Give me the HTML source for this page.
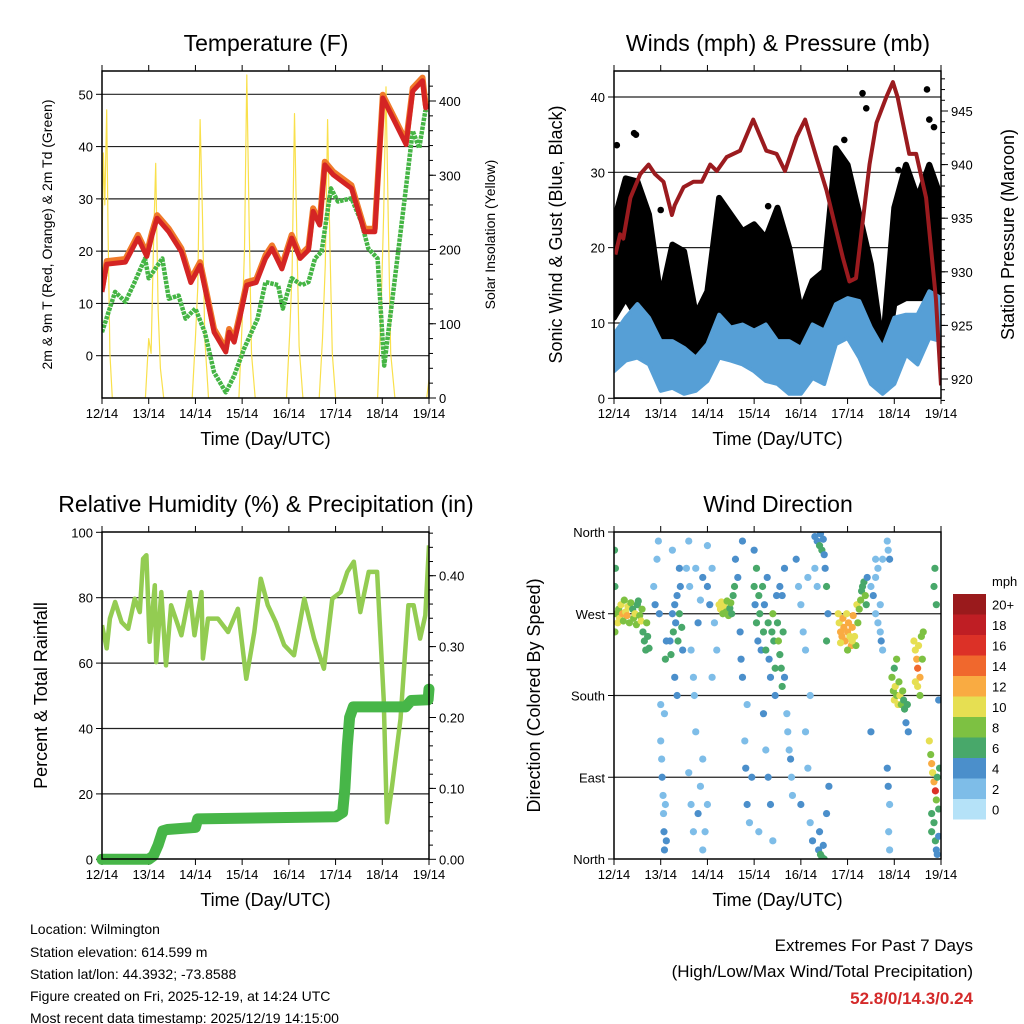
<!DOCTYPE html>
<html><head><meta charset="utf-8"><style>
html,body{margin:0;padding:0;background:#fff}
svg{display:block;font-family:"Liberation Sans",sans-serif}
</style></head><body>
<svg id="fig" width="1024" height="1024" viewBox="0 0 1024 1024" xmlns="http://www.w3.org/2000/svg">
<g id="layer"></g>
<g font-size="14" fill="#000">
<text x="30" y="934">Location: Wilmington</text>
<text x="30" y="957">Station elevation: 614.599 m</text>
<text x="30" y="979">Station lat/lon: 44.3932; -73.8588</text>
<text x="30" y="1001">Figure created on Fri, 2025-12-19, at 14:24 UTC</text>
<text x="30" y="1023">Most recent data timestamp: 2025/12/19 14:15:00</text>
</g>
<g text-anchor="end">
<text x="973" y="951" font-size="17">Extremes For Past 7 Days</text>
<text x="973" y="977" font-size="17">(High/Low/Max Wind/Total Precipitation)</text>
<text x="973" y="1004" font-size="17" font-weight="bold" fill="#d42a2a">52.8/0/14.3/0.24</text>
</g>
</svg>
<script>
// ---------- data ----------
const dayLabels=["12/14","13/14","14/14","15/14","16/14","17/14","18/14","19/14"];
const tempT=[0,0.1,0.5,0.77,0.96,1.07,1.18,1.43,1.7,1.9,2.1,2.25,2.4,2.65,2.72,2.83,2.96,3.1,3.3,3.5,3.64,3.85,4.06,4.24,4.42,4.52,4.66,4.77,4.95,5.34,5.62,5.84,6.01,6.26,6.51,6.65,6.86,6.93,7.0];
const tempF=[12.2,17.5,17.9,22.5,19,23,26.3,23.7,19.9,14,17.3,11,4.5,0.7,4.5,2.6,7.7,13.5,14,18.6,20.5,16.6,22.5,18.6,20.2,27.6,25,36.5,34.6,32,23.7,23.7,49.3,44.9,40.4,50.6,52.6,47.4,48];
const dewT=[0,0.28,0.5,0.7,0.92,1.0,1.29,1.43,1.64,1.79,2.0,2.2,2.4,2.65,2.83,3.04,3.33,3.5,3.77,3.87,4.06,4.28,4.42,4.56,4.7,4.9,5.05,5.34,5.55,5.7,5.9,6.04,6.2,6.48,6.65,6.79,6.92,7.0];
const dewF=[4.5,12.2,10.3,14.1,18.6,14.8,18.6,10.9,11.5,7.1,9,4.5,-3.2,-7,-3.8,1.3,7.1,14.1,13.5,9,14.8,13.5,14.1,18.6,19.9,32,29.5,30.1,25.6,20.5,18.6,-1.9,9.6,30.1,43,39.7,46.8,47.5];
const solarT=[0,0.03,0.06,0.1,0.13,0.17,0.22,0.93,1.0,1.05,1.1,1.15,1.2,1.25,1.32,1.93,2.0,2.05,2.1,2.15,2.2,2.28,2.93,3.0,3.05,3.1,3.15,3.2,3.28,3.95,4.02,4.07,4.12,4.17,4.22,4.3,4.65,4.72,4.78,4.83,4.88,4.93,5.0,5.9,5.97,6.03,6.08,6.13,6.18,6.27,6.95,7.0];
const solarV=[200,330,260,388,220,60,0,0,80,60,200,316,120,40,0,0,80,150,375,250,80,0,0,100,200,435,230,60,0,0,90,170,383,220,70,0,0,80,180,375,200,60,0,0,110,250,419,230,60,0,0,25];
const presT=[0.03,0.13,0.2,0.35,0.56,0.74,0.88,1.06,1.24,1.3,1.49,1.7,1.88,2.06,2.2,2.41,2.7,2.98,3.26,3.48,3.66,3.91,4.09,4.33,4.55,4.9,5.04,5.18,5.47,5.62,5.83,5.97,6.07,6.32,6.47,6.68,6.89,7.0];
const presMb=[931.6,933.5,933.1,936.9,939.1,940,939.1,938.4,935.3,936.2,937.9,938.4,938.4,940,939.4,940.7,941.3,944.2,941.3,941,939.4,942.6,944.2,940.7,937.6,931.3,929.1,929.4,940,943.9,946.3,947.7,946.3,941,941,936.9,927.5,919.4];
const windT=[0,0.25,0.5,0.75,1,1.25,1.5,1.75,2,2.25,2.5,2.75,3,3.25,3.5,3.75,4,4.25,4.5,4.75,5,5.25,5.5,5.75,6,6.25,6.5,6.75,7];
const windLo=[3.6,5.0,5.4,4.5,1.0,1.4,0.6,1.0,2.3,5.4,5.0,4.5,3.6,2.3,1.9,0.6,0.6,2.7,1.9,7.2,8.0,5.4,1.9,0.6,1.9,5.8,4.5,8.0,7.6];
const windHi=[8.5,10.7,12.5,10.7,7.6,7.6,6.7,5.4,7.2,11.1,9.4,9.8,9.0,9.8,7.6,7.6,6.7,9.8,9.0,12.5,13.3,12.9,9.4,6.7,10.7,11.1,11.1,14.2,13.3];
const gustLo=[10.7,13.3,10.7,9.0,3.2,6.7,4.5,3.6,4.5,11.1,7.6,5.8,7.6,5.8,4.5,2.3,2.7,4.5,5.4,13.3,11.1,6.7,3.2,2.3,12.5,13.3,13.3,13.3,11.1];
const gustHi=[23.5,29.2,28.8,24.4,13.3,20.4,19.5,11.1,14.2,26.6,24.4,22.2,23.1,21.3,25.3,20.0,11.6,15.6,16.9,33.2,31.0,24.4,17.8,6.7,25.3,31.0,26.6,31.0,26.6];
const gustOutT=[0.06,0.43,0.47,1.0,2.35,3.3,4.93,5.32,5.4,6.09,6.7,6.75,6.85];
const gustOutV=[33.6,35.2,35.0,25,25,25.5,34.3,40.5,38.5,30.3,41,37,36];
const rhT=[0,0.1,0.17,0.28,0.42,0.56,0.7,0.81,0.88,0.95,1.02,1.13,1.16,1.27,1.37,1.48,1.7,1.88,1.98,2.13,2.16,2.27,2.48,2.7,2.91,3.09,3.26,3.4,3.55,3.72,3.9,4.11,4.33,4.54,4.75,4.93,5.11,5.25,5.39,5.53,5.71,5.89,6.03,6.1,6.21,6.39,6.56,6.67,6.81,6.92,7.0];
const rhPct=[71.6,64.5,73.6,78.7,72.5,70.5,79.7,75.6,91.9,93,66.5,83.8,60.3,81.7,59.3,77.7,68.5,81.7,68.5,81.7,61.4,73.6,73.6,69.5,76.6,55.2,69.5,85.8,77.7,72.5,65.5,62.4,79.7,67.5,58.3,79.7,81.7,87.9,91,75.6,87.9,87.9,49,11.3,22.5,42.9,77.7,77.7,67.5,74.6,96];
const precipT=[0,1.0,1.1,1.2,1.3,1.4,2.0,2.05,5.0,5.15,5.2,5.25,5.3,5.38,6.5,6.62,6.98,7.0];
const precipIn=[0,0,0.005,0.02,0.04,0.042,0.045,0.057,0.06,0.066,0.1,0.16,0.2,0.215,0.215,0.224,0.225,0.24];
const speedBins=["0","2","4","6","8","10","12","14","16","18","20+"];
const speedColors=["#b5e2f8","#7ebde8","#4b8fcb","#48a86a","#7dc142","#e6df52","#f9ab42","#f0682d","#dc3127","#bf1e24","#9a1a1c"];
const dirObs=[[0.01,340,7],[0.02,300,7],[0.02,250,8],[0.03,320,6],[0.05,270,8],[0.08,260,10],[0.1,275,9],[0.12,265,11],[0.15,280,10],[0.18,270,12],[0.2,262,9],[0.22,285,8],[0.25,272,11],[0.28,268,13],[0.3,278,10],[0.33,260,9],[0.36,282,8],[0.4,275,7],[0.42,265,9],[0.45,270,10],[0.48,258,8],[0.5,280,7],[0.52,284,6],[0.55,268,9],[0.58,262,10],[0.6,275,8],[0.62,250,7],[0.65,240,6],[0.68,230,7],[0.7,260,8],[0.72,245,6],[0.75,232,6],
[0.85,300,3],[0.88,280,4],[0.92,330,2],[0.95,350,3],[0.97,270,4],[1.0,170,2],[1.0,130,3],[1.02,110,3],[1.03,90,4],[1.05,70,3],[1.06,50,3],[1.07,30,4],[1.08,10,4],[1.1,220,6],[1.12,240,5],[1.08,160,2],[1.1,60,3],[1.12,20,4],
[1.2,240,5],[1.22,225,7],[1.25,270,5],[1.27,250,7],[1.3,280,5],[1.32,260,4],[1.35,290,5],[1.37,240,7],[1.4,270,6],[1.42,300,4],[1.45,255,7],[1.47,230,5],[1.3,200,5],[1.35,180,4],[1.4,320,4],[1.25,340,2],
[1.55,320,3],[1.6,350,3],[1.62,300,3],[1.65,230,3],[1.7,200,3],[1.72,180,2],[1.75,140,3],[1.6,95,3],[1.65,60,3],[1.7,30,3],[1.8,50,4],[1.85,80,3],[1.9,110,3],[1.95,30,3],[1.8,260,4],[1.85,285,3],[1.9,310,4],[2.0,300,4],[2.05,280,5],[2.1,320,3],[2.15,260,3],[2.2,230,3],[2.1,200,3],[1.75,320,3],[2.0,345,3],[1.9,10,3],[2.0,60,3],
[2.25,280,10],[2.28,275,11],[2.3,283,10],[2.33,270,9],[2.36,278,11],[2.4,272,8],[2.42,284,8],[2.45,268,9],[2.48,276,7],[2.5,282,8],[2.52,270,7],[2.55,290,6],[2.58,300,7],
[2.6,330,4],[2.65,310,5],[2.7,250,4],[2.72,220,4],[2.75,200,4],[2.8,130,3],[2.82,100,4],[2.85,60,4],[2.9,40,3],[2.75,350,4],[2.85,170,3],[2.95,90,4],
[3.0,300,6],[3.02,280,5],[3.05,260,7],[3.08,240,5],[3.1,290,6],[3.12,270,7],[3.15,230,5],[3.18,300,6],[3.2,250,7],[3.22,280,4],[3.25,230,6],[3.28,310,5],[3.3,260,7],[3.32,220,4],[3.35,200,5],[3.38,250,6],[3.4,270,8],[3.42,240,7],[3.45,210,7],[3.48,290,4],
[3.0,340,5],[3.05,320,6],[3.2,160,4],[3.25,120,3],[3.3,90,4],[3.35,60,4],[3.4,20,3],[3.45,180,5],[3.1,30,3],
[3.5,260,7],[3.52,240,8],[3.55,225,7],[3.58,210,6],[3.6,190,7],[3.62,250,6],[3.65,200,4],[3.7,160,3],[3.72,140,3],[3.75,120,3],[3.78,110,4],[3.8,90,3],[3.82,70,3],[3.6,290,5],[3.65,320,4],[3.55,300,5],
[3.9,330,4],[3.95,300,3],[4.0,280,2],[4.05,250,2],[4.1,230,3],[4.15,310,3],[4.2,180,2],[4.1,140,3],[4.15,100,3],[4.0,60,4],[4.2,40,3],[4.25,20,4],
[4.3,355,4],[4.35,350,5],[4.4,345,7],[4.42,358,4],[4.45,340,6],[4.48,352,5],[4.5,335,4],[4.52,320,5],[4.55,300,7],[4.58,270,5],[4.3,320,2],[4.35,300,2],[4.38,10,4],[4.42,5,7],[4.45,2,6],[4.48,15,5],[4.5,0,7],[4.4,30,4],[4.55,50,4],[4.6,80,4],[4.55,240,6],
[4.8,270,10],[4.82,260,11],[4.85,250,12],[4.88,245,13],[4.9,265,12],[4.92,255,13],[4.95,240,12],[4.98,270,11],[5.0,250,13],[5.02,260,12],[5.05,245,11],[5.08,235,12],[5.1,255,13],[5.12,268,12],[5.15,245,10],[5.18,235,8],[5.2,280,10],[5.22,260,9],[4.85,238,10],[5.0,230,9],[5.1,240,11],
[5.25,275,8],[5.28,285,8],[5.3,295,7],[5.32,300,6],[5.35,305,7],[5.38,290,8],[5.4,280,6],[5.42,310,5],
[5.5,300,3],[5.55,290,4],[5.6,270,3],[5.65,260,3],[5.7,250,3],[5.72,240,4],[5.75,230,3],[5.6,310,2],[5.65,320,3],[5.7,280,3],[5.75,330,2],[5.5,140,4],[5.6,330,3],
[5.85,350,2],[5.87,340,3],[5.9,330,4],[5.85,100,4],[5.87,80,4],[5.9,60,3],[5.88,30,3],[5.9,10,3],
[5.95,200,8],[5.98,185,9],[6.0,175,10],[6.02,190,11],[6.05,180,9],[6.08,170,10],[6.1,195,8],[6.12,180,11],[6.15,170,9],[6.18,185,8],[6.2,175,7],[6.22,165,7],[6.0,210,7],[6.05,220,8],[6.25,150,5],[6.3,140,5],[6.28,170,7],
[6.42,240,10],[6.45,230,11],[6.48,220,12],[6.5,210,15],[6.52,235,10],[6.55,200,12],[6.58,245,8],[6.6,220,9],[6.62,250,9],[6.45,195,10],[6.5,190,11],[6.55,180,9],
[6.75,130,10],[6.78,115,9],[6.8,105,12],[6.82,95,11],[6.85,85,13],[6.88,75,16],[6.9,65,8],[6.92,90,7],[6.95,55,7],[6.97,100,6],[6.8,50,6],[6.85,40,6],[6.88,20,6],[6.9,10,5],[6.8,30,7],[6.92,5,4],[6.95,25,5],[6.85,300,7],[6.87,320,6],[6.9,280,6],[6.95,175,4]];

// ---------- helpers ----------
const NS="http://www.w3.org/2000/svg";
const root=document.getElementById('layer');
function mk(tag,attrs,parent){const e=document.createElementNS(NS,tag);for(const k in attrs)e.setAttribute(k,attrs[k]);(parent||root).appendChild(e);return e;}
function lin(d0,d1,r0,r1){return v=>r0+(v-d0)*(r1-r0)/(d1-d0);}
function pts(xs,ys,fx,fy){return xs.map((t,i)=>fx(t).toFixed(1)+","+fy(ys[i]).toFixed(1)).join(" ");}

function panel(name,P,title,leftLabel,leftTicks,fyL,rightLabel,rightTicks,fyR,rightMinor,gridVals,titleX){
  const g=mk('g',{});
  
  
  const fx=lin(0,7,P.x0,P.x1);
  const t=mk('text',{x:titleX||(P.x0+P.x1)/2,y:P.y0-20,'font-size':23,'text-anchor':'middle'},g);
  t.textContent=title;
  
  
  gridVals.forEach(v=>{const l=mk('line',{x1:P.x0,x2:P.x1,y1:fyL(v),y2:fyL(v),stroke:'#222','stroke-width':1.2},g);
    
    });
  dayLabels.forEach((lab,i)=>{
    const x=fx(i);
    mk('line',{x1:x,x2:x,y1:P.y1,y2:P.y1+6,stroke:'#000'},g);
    mk('line',{x1:x,x2:x,y1:P.y0,y2:P.y0-6,stroke:'#000'},g);
    const tx=mk('text',{x:x,y:P.y1+20,'font-size':13,'text-anchor':'middle'},g);
    tx.textContent=lab;
    
    
  });
  const xl=mk('text',{x:(P.x0+P.x1)/2,y:P.y1+47,'font-size':18,'text-anchor':'middle'},g);
  xl.textContent="Time (Day/UTC)";
  
  
  leftTicks.forEach(tk=>{const y=fyL(tk.v);
    mk('line',{x1:P.x0-6,x2:P.x0,y1:y,y2:y,stroke:'#000'},g);
    const tx=mk('text',{x:P.x0-9,y:y+5,'font-size':13,'text-anchor':'end'},g);
    tx.textContent=tk.l;
    
    });
  if(rightTicks){rightTicks.forEach(tk=>{const y=fyR(tk.v);
    mk('line',{x1:P.x1,x2:P.x1+7,y1:y,y2:y,stroke:'#000'},g);
    const tx=mk('text',{x:P.x1+10,y:y+5,'font-size':13},g);
    tx.textContent=tk.l;
    
    });
    (rightMinor||[]).forEach(v=>{const y=fyR(v);mk('line',{x1:P.x1,x2:P.x1+4,y1:y,y2:y,stroke:'#000'},g);});}
  const yl=mk('text',{transform:`translate(${P.ll},${(P.y0+P.y1)/2}) rotate(-90)`,'font-size':P.lfs||18,'text-anchor':'middle'},g);
  yl.textContent=leftLabel;
  
  
  if(rightLabel){const yr=mk('text',{transform:`translate(${P.rl},${(P.y0+P.y1)/2}) rotate(-90)`,'font-size':P.rfs||18,'text-anchor':'middle'},g);
    yr.textContent=rightLabel;
    
    }
  const clip=mk('clipPath',{id:'c'+name},g);mk('rect',{x:P.x0,y:P.y0,width:P.x1-P.x0,height:P.y1-P.y0},clip);
  const data=mk('g',{'clip-path':`url(#c${name})`},g);
  return {g,data,fx,frame:()=>{const r=mk('rect',{x:P.x0,y:P.y0,width:P.x1-P.x0,height:P.y1-P.y0,fill:'none',stroke:'#000','stroke-width':1.5},g);
    
    }};
}
function range(a,b,s){const r=[];for(let v=a;v<=b+1e-9;v+=s)r.push(+v.toFixed(3));return r;}

// ---------- Temperature ----------
{const P={x0:102,x1:429,y0:71,y1:398,ll:52,rl:495,lfs:14,rfs:14};
 const fyL=lin(0,50,355.7,94.3), fyR=lin(0,400,398,101);
 const p=panel('temperature-panel',P,'Temperature (F)','2m & 9m T (Red, Orange) & 2m Td (Green)',
  [0,10,20,30,40,50].map(v=>({v,l:String(v)})),fyL,'Solar Insolation (Yellow)',[0,100,200,300,400].map(v=>({v,l:String(v)})),fyR,range(20,420,20),[0,10,20,30,40,50],266);
 const s=mk('polyline',{points:pts(solarT,solarV,p.fx,fyR),fill:'none',stroke:'#f9e04b','stroke-width':1.2,'stroke-linejoin':'round'},p.data);
 
 
 const d=mk('polyline',{points:pts(dewT,dewF,p.fx,fyL),fill:'none',stroke:'#45b545','stroke-width':4.5,'stroke-dasharray':'3.5 1','stroke-linejoin':'round'},p.data);
 
 
 const o=mk('polyline',{points:pts(tempT,tempF.map(v=>v+0.6),p.fx,fyL),fill:'none',stroke:'#f07a2a','stroke-width':6,'stroke-linejoin':'round'},p.data);
 
 
 const r=mk('polyline',{points:pts(tempT,tempF,p.fx,fyL),fill:'none',stroke:'#d42424','stroke-width':5,'stroke-linejoin':'round'},p.data);
 
 
 p.frame();}

// ---------- Winds ----------
{const P={x0:614,x1:941,y0:71,y1:398,ll:562,rl:1014,lfs:18,rfs:18};
 const fyL=lin(0,40,398.3,97), fyR=lin(920,945,379,111);
 const p=panel('winds-panel',P,'Winds (mph) & Pressure (mb)','Sonic Wind & Gust (Blue, Black)',
  [0,10,20,30,40].map(v=>({v,l:String(v)})),fyL,'Station Pressure (Maroon)',[920,925,930,935,940,945].map(v=>({v,l:String(v)})),fyR,range(918,948,1),[0,10,20,30,40],778);
 const gp=pts(windT,gustHi,p.fx,fyL)+" "+pts(windT.slice().reverse(),gustLo.slice().reverse(),p.fx,fyL);
 const gb=mk('polygon',{points:gp,fill:'#000',stroke:'#000','stroke-width':6,'stroke-linejoin':'round'},p.data);
 
 
 gustOutT.forEach((t,i)=>{const c=mk('circle',{cx:p.fx(t),cy:fyL(gustOutV[i]),r:3.3,fill:'#000'},p.data);
  
  });
 const wp=pts(windT,windHi,p.fx,fyL)+" "+pts(windT.slice().reverse(),windLo.slice().reverse(),p.fx,fyL);
 const wb=mk('polygon',{points:wp,fill:'#569fd6',stroke:'#569fd6','stroke-width':4,'stroke-linejoin':'round'},p.data);
 
 
 const pr=mk('polyline',{points:pts(presT,presMb,p.fx,fyR),fill:'none',stroke:'#9b1b1f','stroke-width':4,'stroke-linejoin':'round'},p.data);
 
 
 p.frame();}

// ---------- RH & precip ----------
{const P={x0:102,x1:429,y0:532,y1:859,ll:47,lfs:18};
 const fyL=lin(0,100,859.3,532.3), fyR=lin(0,0.4,859.3,575.7);
 const p=panel('humidity-panel',P,'Relative Humidity (%) & Precipitation (in)','Percent & Total Rainfall',
  [0,20,40,60,80,100].map(v=>({v,l:String(v)})),fyL,null,[0,0.1,0.2,0.3,0.4].map(v=>({v,l:v.toFixed(2)})),fyR,range(0.02,0.46,0.02),[20,40,60,80],266);
 const rh=mk('polyline',{points:pts(rhT,rhPct,p.fx,fyL),fill:'none',stroke:'#93cc52','stroke-width':4.5,'stroke-linejoin':'round'},p.data);
 
 
 const pc=mk('polyline',{points:pts(precipT,precipIn,p.fx,fyR),fill:'none',stroke:'#47b648','stroke-width':11,'stroke-linejoin':'round','stroke-linecap':'round'},p.g);
 
 
 p.frame();}

// ---------- Wind direction ----------
{const P={x0:614,x1:941,y0:532,y1:859,ll:540,lfs:18};
 const fyL=lin(0,360,859,532);
 const p=panel('wind-direction-panel',P,'Wind Direction','Direction (Colored By Speed)',
  [{v:0,l:'North'},{v:90,l:'East'},{v:180,l:'South'},{v:270,l:'West'},{v:360,l:'North'}],fyL,null,null,null,null,[90,180,270],778);
 dirObs.forEach(o=>{const bin=Math.min(10,Math.max(0,Math.floor(o[2]/2)));
  const c=mk('circle',{cx:p.fx(o[0]),cy:fyL(o[1]),r:3.6,fill:speedColors[bin]},p.data);
  
  });
 p.frame();
 const lg=mk('g',{});
 
 
 const mt=mk('text',{x:992,y:586,'font-size':13},lg);mt.textContent='mph';
 const bh=20.5, top=594;
 speedBins.forEach((lab,i)=>{const y=top+(10-i)*bh;
  const r=mk('rect',{x:953,y:y,width:33,height:bh,fill:speedColors[i]},lg);
  
  
  const t=mk('text',{x:992,y:y+bh/2+5,'font-size':13},lg);t.textContent=lab;
  
  });
}
</script>
</body></html>
